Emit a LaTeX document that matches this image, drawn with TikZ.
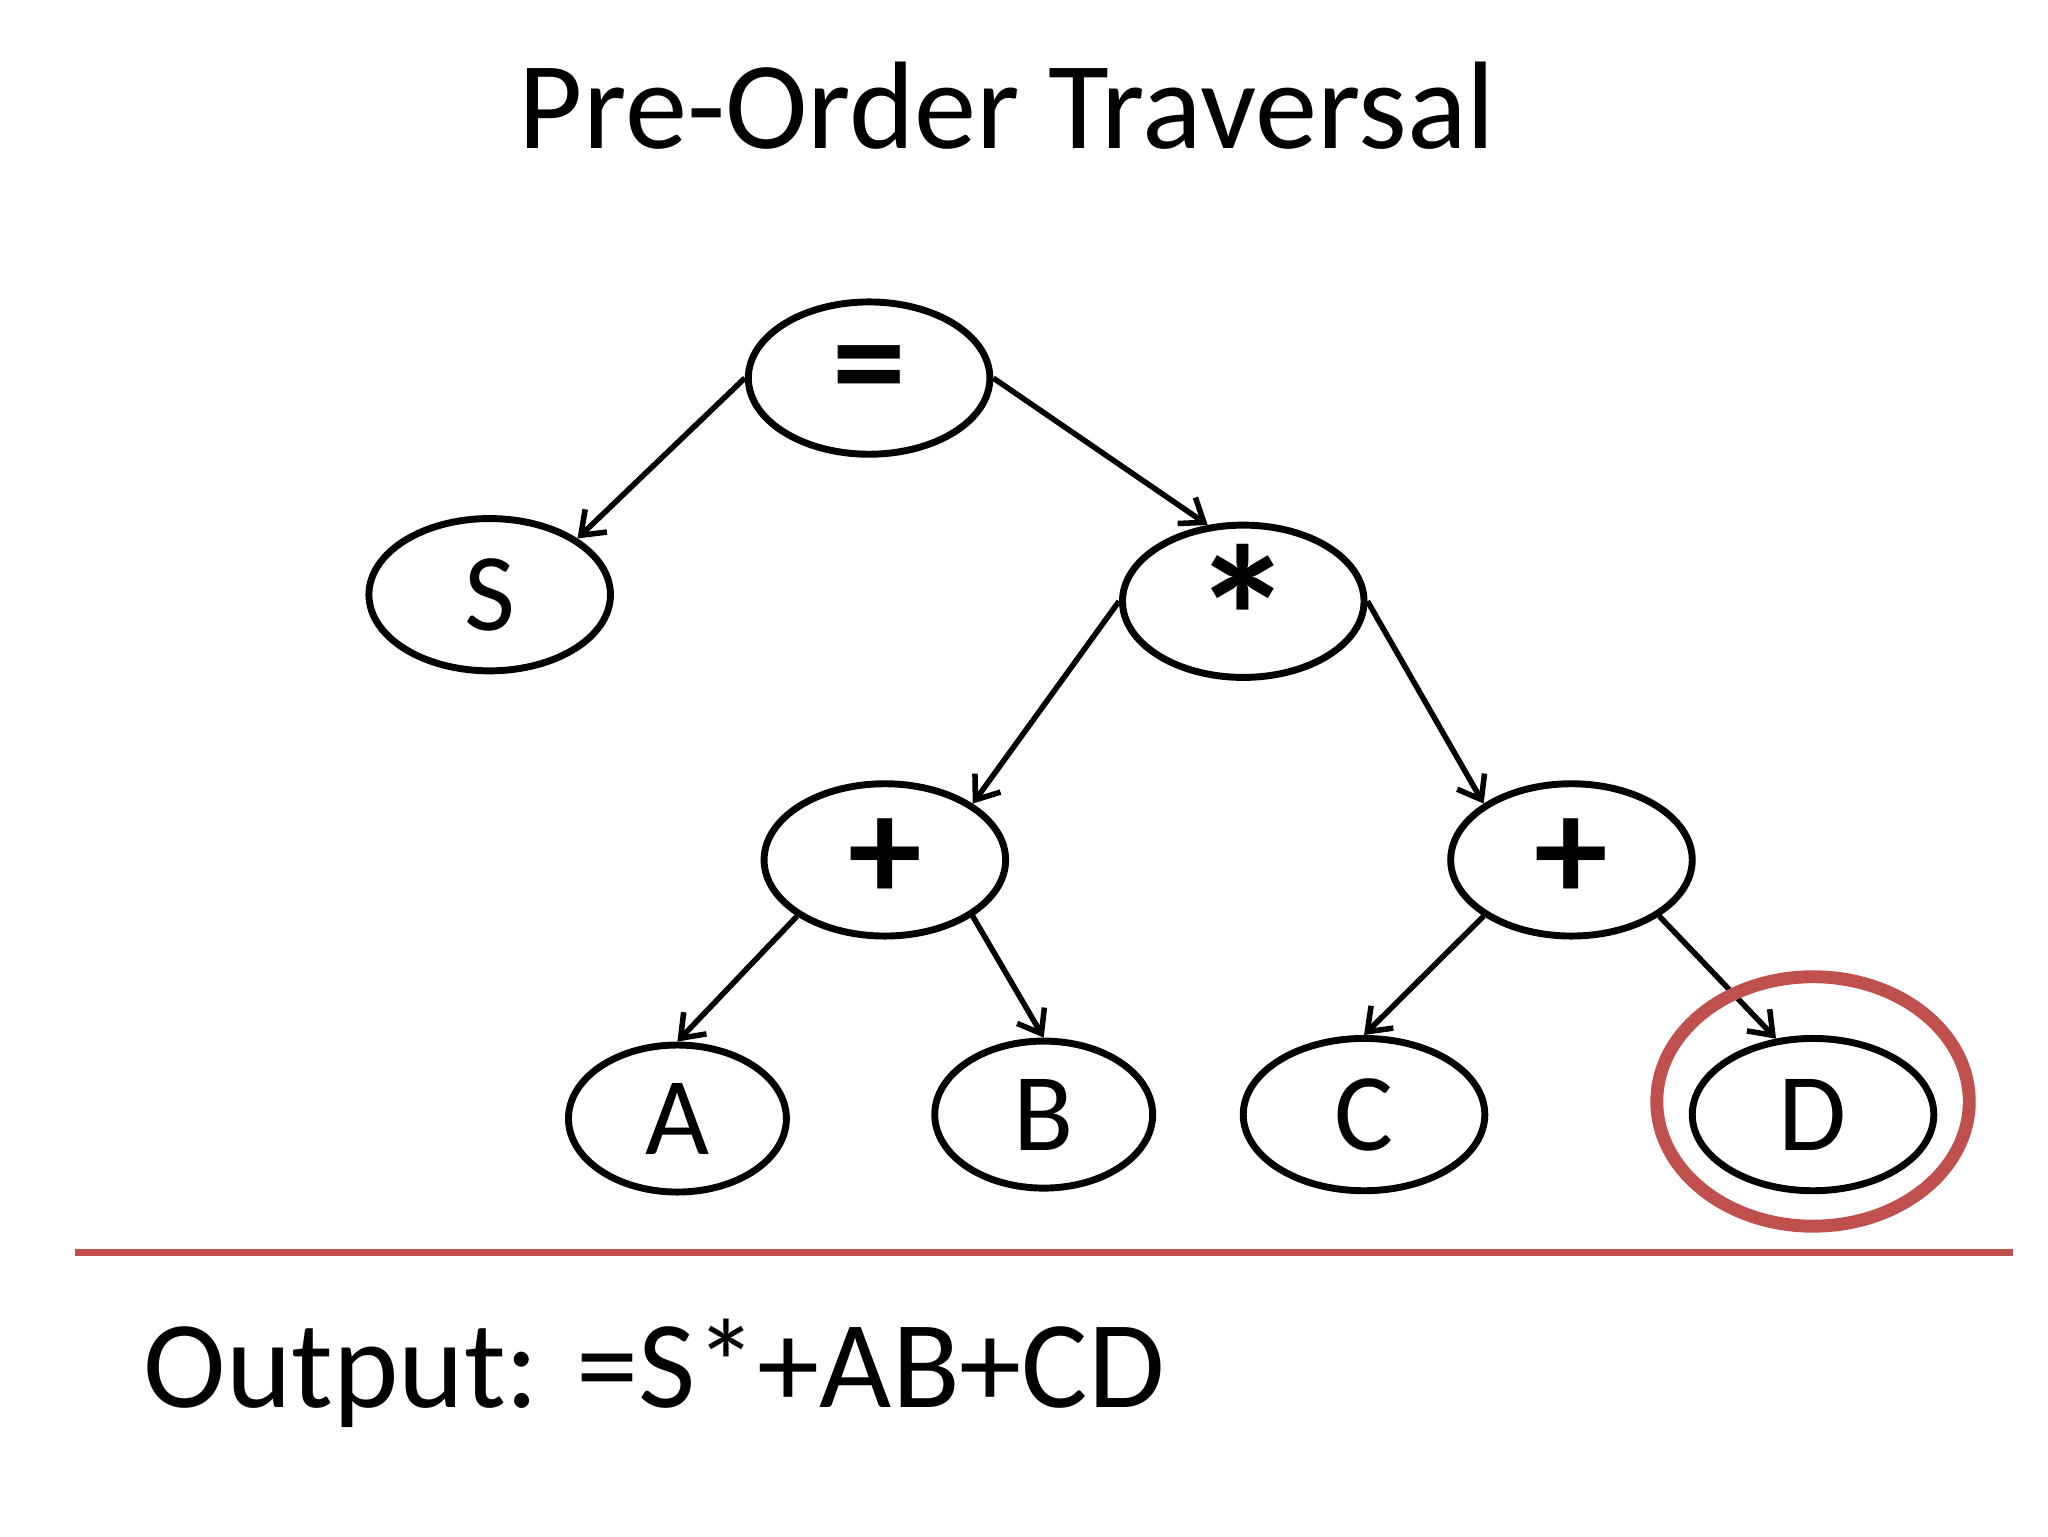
\documentclass[tikz,border=0pt]{standalone}
\usepackage{fontspec}
\setmainfont{Carlito}
\usepackage{tikz}
\usetikzlibrary{arrows,arrows.meta,shapes,positioning}

\definecolor{markred}{RGB}{192,80,77}

\begin{document}
\begin{tikzpicture}[
    tnode/.style={ellipse,draw,line width=1.5pt,inner sep=0pt,minimum width=1.84cm,minimum height=1.16cm,font=\fontsize{24}{26}\selectfont},
    leaf/.style={tnode,minimum width=1.66cm,minimum height=1.12cm},
    op/.style={font=\fontsize{32}{34}\selectfont\bfseries},
    edge/.style={-{Straight Barb[length=1.6mm,width=2.4mm]},line width=1.2pt}
  ]
      \useasboundingbox (0,0) rectangle (15.6,-11.7);

      \node[anchor=base] (title) at (7.67,-1.13) {\fontsize{27}{30}\selectfont Pre-Order Traversal};

      \node[tnode,op] (eq) at (6.62,-2.88) {=};
      \node[tnode] (s) at (3.73,-4.53) {S};
      \node[tnode,font=\fontsize{44}{44}\selectfont\bfseries] (star) at (9.47,-4.58) {\raisebox{-0.67cm}[0pt][0pt]{*}};
      \node[tnode,op] (plusl) at (6.74,-6.55) {+};
      \node[tnode,op] (plusr) at (11.97,-6.55) {+};
      \node[leaf] (a) at (5.16,-8.52) {A};
      \node[leaf] (b) at (7.95,-8.49) {B};
      \node[tnode] (c) at (10.39,-8.49) {C};
      \node[tnode] (d) at (13.81,-8.49) {D};

      \draw[edge] (eq.west) -- (s.north east);
      \draw[edge] (eq.east) -- (star.115);
      \draw[edge] (star.west) -- (plusl.north east);
      \draw[edge] (star.east) -- (plusr.north west);
      \draw[edge] (plusl.south west) -- (a.north);
      \draw[edge] (plusl.south east) -- (b.north);
      \draw[edge] (plusr.south west) -- (c.north);
      \draw[edge] (plusr.south east) -- (d.116);

      \draw[markred,line width=2.8pt] ([yshift=0.1cm]d.center) ellipse (1.19 and 0.95);
      \draw[markred,line width=1.6pt] (0.57,-9.54) -- (15.33,-9.54);

      \node[anchor=base west] (out) at (0.97,-10.72) {\fontsize{27}{30}\selectfont Output: =S*+AB+CD};
\end{tikzpicture}
\end{document}
